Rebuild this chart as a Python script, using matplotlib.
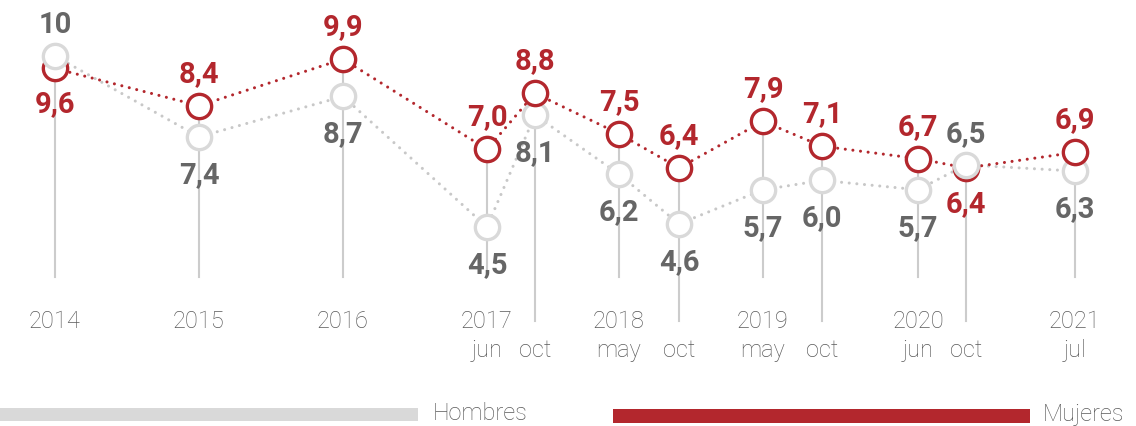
import matplotlib
matplotlib.use("Agg")
import matplotlib.pyplot as plt
from matplotlib.patches import Rectangle

# ---- data ----
years = ["2014", "2015", "2016", "2017", "", "2018", "", "2019", "", "2020", "", "2021"]
months = ["", "", "", "jun", "oct", "may", "oct", "may", "oct", "jun", "oct", "jul"]
hombres = [10, 7.4, 8.7, 4.5, 8.1, 6.2, 4.6, 5.7, 6.0, 5.7, 6.5, 6.3]
mujeres = [9.6, 8.4, 9.9, 7.0, 8.8, 7.5, 6.4, 7.9, 7.1, 6.7, 6.4, 6.9]
legend_labels = ["Hombres", "Mujeres"]

# ---- layout ----
W, H = 1136, 427
xpos = [55, 199, 343, 487, 535, 619, 679, 763, 822, 918, 966, 1075]
long_stem = [False, False, False, False, True, False, True, False, True, False, True, False]
red_above = [False, True, True, True, True, True, True, True, True, True, False, True]
grey_above = [True, False, False, False, False, False, False, False, False, False, True, False]

RED = "#b3272d"
GREY_M = "#d9d9d9"
GREY_LINE = "#c8c8c8"
GREY_TXT = "#666666"
AX_TXT = "#5a5a5a"

plt.rcParams["font.family"] = ["Roboto", "DejaVu Sans"]

fig = plt.figure(figsize=(W / 100, H / 100), dpi=100)
ax = fig.add_axes([0, 0, 1, 1])
ax.set_xlim(0, W)
px_per_unit = 31.1
ytop = 10 + 57 / px_per_unit
ybot = 10 - (H - 57) / px_per_unit
ax.set_ylim(ybot, ytop)
ax.axis("off")

def ypix(p):
    # pixel row from top -> data value
    return 10 - (p - 57) / px_per_unit

# stems
for i, x in enumerate(xpos):
    top = max(hombres[i], mujeres[i])
    bottom = ypix(322 if long_stem[i] else 278)
    ax.plot([x, x], [bottom, top], color="#cccccc", lw=1.5, zorder=1)

# dotted lines
dots = (0, (0.01, 2.5))
ax.plot(xpos, hombres, color=GREY_LINE, lw=2.2, ls=dots, zorder=2, dash_capstyle="round")
ax.plot(xpos, mujeres, color=RED, lw=2.2, ls=dots, zorder=2, dash_capstyle="round")

# markers: higher value drawn on top
for i, x in enumerate(xpos):
    zh = 6 if hombres[i] > mujeres[i] else 4
    zm = 6 if mujeres[i] >= hombres[i] else 4
    ax.plot(x, hombres[i], "o", ms=17.5, mfc="white", mec=GREY_M, mew=2.4, zorder=zh)
    ax.plot(x, mujeres[i], "o", ms=17.5, mfc="white", mec=RED, mew=2.4, zorder=zm)

def fmt(v):
    return "10" if v == 10 else f"{v:.1f}".replace(".", ",")

for i, x in enumerate(xpos):
    dy = 33 if red_above[i] else -35
    ax.annotate(fmt(mujeres[i]), (x, mujeres[i]), xytext=(0, dy), textcoords="offset pixels",
                ha="center", va="center", fontsize=21, fontweight="bold", color=RED, zorder=8)
    dy = 32 if grey_above[i] else -37
    ax.annotate(fmt(hombres[i]), (x, hombres[i]), xytext=(0, dy), textcoords="offset pixels",
                ha="center", va="center", fontsize=21, fontweight="bold", color=GREY_TXT, zorder=8)

# axis labels
for i, x in enumerate(xpos):
    if years[i]:
        ax.text(x, ypix(322), years[i], ha="center", va="center", fontsize=17,
                fontweight="light", color=AX_TXT)
    if months[i]:
        ax.text(x, ypix(351), months[i], ha="center", va="center", fontsize=17,
                fontweight="light", color=AX_TXT)

# legend
def frect(x0, x1, y0, y1, color):
    fig.add_artist(Rectangle((x0 / W, 1 - y1 / H), (x1 - x0) / W, (y1 - y0) / H,
                             transform=fig.transFigure, color=color, lw=0))

frect(0, 418, 409, 422, GREY_M)
frect(613, 1030, 410, 424, RED)
fig.text(433 / W, 1 - 414 / H, legend_labels[0], ha="left", va="center", fontsize=17,
         fontweight="light", color=AX_TXT)
fig.text(1043 / W, 1 - 415 / H, legend_labels[1], ha="left", va="center", fontsize=17,
         fontweight="light", color=AX_TXT)

fig.savefig("out.png", dpi=100)
